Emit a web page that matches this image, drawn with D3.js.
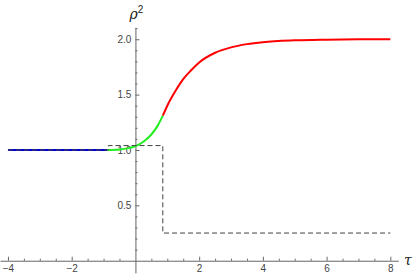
<!DOCTYPE html>
<html>
<head>
<meta charset="utf-8">
<script src="https://cdn.jsdelivr.net/npm/d3@7"></script>
<style>
  body { margin: 0; background: #fff; }
  .tick text { font-family: 'Liberation Sans', Arial, sans-serif; font-size: 10px; fill: #444; }
  .ax path, .ax line { stroke: #666; }
</style>
</head>
<body>
<svg id="chart"></svg>
<script>
// blue branch
const blueTau = [-4, -0.89]
const blueRho = [1, 1]

// green branch
const greenTau = [-0.89, -0.5, 0, 0.25, 0.5, 0.7, 0.86]
const greenRho = [1.0, 1.005, 1.035, 1.075, 1.14, 1.22, 1.31]

// red branch
const redTau = [0.86, 1.0, 1.25, 1.5, 1.75, 2.0, 2.5, 3.0, 3.5, 4.0, 5.0, 6.0, 7.0, 8.0]
const redRho = [1.31, 1.40, 1.53, 1.64, 1.72, 1.79, 1.878, 1.927, 1.956, 1.974, 1.99, 1.996, 1.999, 2.0]

// dashed step
const stepTau = [-4, -0.85, 0.86, 8]
const stepRho = [1, 1.04, 0.25, 0.25]

const xMajor = [-4, -2, 2, 4, 6, 8]
const yMajor = [0.5, 1.0, 1.5, 2.0]

const width = 415
const height = 275

const svg = d3.select('#chart')
    .attr('width', width)
    .attr('height', height)

const x = d3.scaleLinear()
    .domain([-4.25, 8.25])
    .range([0, 398.3])

const y = d3.scaleLinear()
    .domain([-0.11, 2.108])
    .range([272.9, 27.3])

const xMinor = d3.range(-4, 8.01, 0.5).filter(v => !xMajor.includes(v) && v !== 0)
const yMinor = d3.range(0.1, 2.101, 0.1).map(v => +v.toFixed(1)).filter(v => !yMajor.includes(v))

// x axis
svg.append('g')
    .attr('class', 'ax')
    .attr('transform', `translate(0, ${y(0)})`)
    .call(d3.axisBottom(x).tickValues(xMinor).tickSize(-2).tickSizeOuter(0).tickFormat(''))

svg.append('g')
    .attr('class', 'ax')
    .attr('transform', `translate(0, ${y(0)})`)
    .call(d3.axisBottom(x).tickValues(xMajor).tickSize(-4).tickSizeOuter(0).tickPadding(4))
    .call(g => g.select('.domain').remove())

// y axis
svg.append('g')
    .attr('class', 'ax')
    .attr('transform', `translate(${x(0)}, 0)`)
    .call(d3.axisLeft(y).tickValues(yMinor).tickSize(-2).tickSizeOuter(0).tickFormat(''))

svg.append('g')
    .attr('class', 'ax')
    .attr('transform', `translate(${x(0)}, 0)`)
    .call(d3.axisLeft(y).tickValues(yMajor).tickSize(-4).tickSizeOuter(0).tickPadding(4).tickFormat(d3.format('.1f')))
    .call(g => g.select('.domain').remove())

const zip = (a, b) => a.map((v, i) => [v, b[i]])

const lineGen = d3.line()
    .x(d => x(d[0]))
    .y(d => y(d[1]))
    .curve(d3.curveMonotoneX)

svg.append('path')
    .datum(zip(blueTau, blueRho))
    .attr('d', lineGen)
    .attr('fill', 'none')
    .attr('stroke', '#0000d0')
    .attr('stroke-width', 2)

svg.append('path')
    .datum(zip(greenTau, greenRho))
    .attr('d', lineGen)
    .attr('fill', 'none')
    .attr('stroke', '#22ee22')
    .attr('stroke-width', 2)

svg.append('path')
    .datum(zip(redTau, redRho))
    .attr('d', lineGen)
    .attr('fill', 'none')
    .attr('stroke', '#ff0000')
    .attr('stroke-width', 2)

svg.append('path')
    .datum(zip(stepTau, stepRho))
    .attr('d', d3.line().x(d => x(d[0])).y(d => y(d[1])).curve(d3.curveStepAfter))
    .attr('fill', 'none')
    .attr('stroke', '#444')
    .attr('stroke-width', 1)
    .attr('stroke-dasharray', '5,3')

// axis labels
svg.append('text')
    .attr('x', x(0) - 6)
    .attr('y', 19)
    .style('font-family', "'DejaVu Serif', serif")
    .style('font-style', 'italic')
    .style('font-size', '14px')
    .attr('fill', '#222')
    .text('ρ')
    .append('tspan')
    .attr('dy', -6)
    .style('font-size', '10px')
    .style('font-style', 'normal')
    .style('font-family', "'Liberation Sans', sans-serif")
    .text('2')

svg.append('text')
    .attr('x', 404)
    .attr('y', y(0) + 4)
    .style('font-family', "'DejaVu Serif', serif")
    .style('font-style', 'italic')
    .style('font-size', '14px')
    .attr('fill', '#222')
    .text('τ')
</script>
</body>
</html>
